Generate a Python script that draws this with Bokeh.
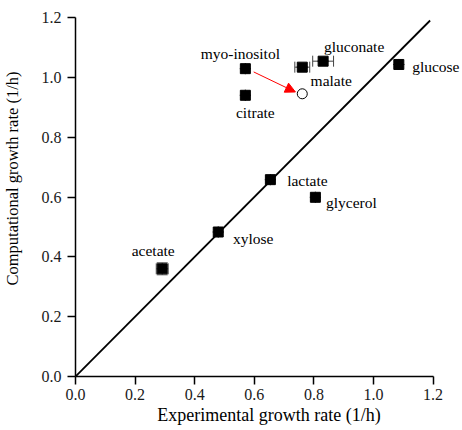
from bokeh.plotting import figure
from bokeh.models import (ColumnDataSource, Whisker, Arrow, NormalHead, TeeHead, Range1d,
                          FixedTicker, Title, CustomJSTickFormatter)
from bokeh.core.properties import value
from bokeh.embed import file_html
from bokeh.resources import INLINE

# ---- data ----
names = ["acetate", "xylose", "lactate", "glycerol", "glucose",
         "gluconate", "myo-inositol", "malate", "citrate"]
exp_rate = [0.291, 0.479, 0.654, 0.805, 1.085, 0.831, 0.570, 0.761, 0.570]
comp_rate = [0.360, 0.483, 0.658, 0.599, 1.043, 1.054, 1.029, 1.034, 0.940]
exp_err = [0.02, 0.0, 0.0, 0.0, 0.0, 0.035, 0.0, 0.025, 0.0]
comp_err = [0.02, 0.0, 0.0, 0.0, 0.0, 0.0, 0.0, 0.0, 0.0]

# corrected myo-inositol prediction (open circle)
corr_x = [0.761]
corr_y = [0.945]

# y = x reference line
diag = [0.0, 1.19]

ticks = [0.0, 0.2, 0.4, 0.6, 0.8, 1.0, 1.2]

# ---- label layout (pixel offsets, styling) ----
lab_dx = [-9, 35, 37, 36, 37, 31, -5, 29, 10]
lab_dy = [-18, 6, 1, 5, 2, -15, -15, 13, 17]

FONT = "Liberation Serif"

p = figure(width=462, height=430, output_backend="svg", toolbar_location=None,
           x_range=Range1d(0, 1.2987), y_range=Range1d(0, 1.2),
           min_border_left=75, min_border_right=0, min_border_top=17, min_border_bottom=54)
p.outline_line_color = None
p.xgrid.visible = False
p.ygrid.visible = False
p.background_fill_color = "white"
p.border_fill_color = "white"

fmt = CustomJSTickFormatter(code="return tick.toFixed(1);")
for ax in (p.xaxis[0], p.yaxis[0]):
    ax.ticker = FixedTicker(ticks=ticks)
    ax.bounds = (0, 1.2)
    ax.formatter = fmt
    ax.minor_tick_line_color = None
    ax.major_tick_out = 8
    ax.major_tick_in = 0
    ax.axis_line_color = "black"
    ax.axis_line_width = 1.5
    ax.major_tick_line_color = "black"
    ax.major_tick_line_width = 1.5
    ax.major_label_text_font = FONT
    ax.major_label_text_font_size = "16px"
    ax.major_label_text_color = "#1a1a1a"
    ax.axis_label_text_font = FONT
    ax.axis_label_text_font_style = "normal"
    ax.axis_label_text_color = "black"

p.xaxis[0].axis_label = "Experimental growth rate (1/h)"
p.xaxis[0].axis_label_text_font_size = "18px"
p.xaxis[0].major_label_standoff = 4
p.xaxis[0].axis_label_standoff = 2
p.yaxis[0].major_label_standoff = 6
# blank axis label only reserves a little space between tick labels and the side title
p.yaxis[0].axis_label = " "
p.yaxis[0].axis_label_text_font_size = "12px"
p.yaxis[0].axis_label_standoff = 0

# y-axis title as a side title so it can sit a little above the frame middle
p.add_layout(Title(text="Computational growth rate (1/h)", align="left", offset=91,
                   text_font=FONT, text_font_size="16.5px", text_font_style="normal",
                   text_color="black", standoff=0), "left")

p.line(diag, diag, line_color="black", line_width=1.8)

src = ColumnDataSource(dict(
    x=exp_rate, y=comp_rate, name=names,
    xl=[a - e for a, e in zip(exp_rate, exp_err)],
    xu=[a + e for a, e in zip(exp_rate, exp_err)],
    yl=[a - e for a, e in zip(comp_rate, comp_err)],
    yu=[a + e for a, e in zip(comp_rate, comp_err)],
    dx=lab_dx, dy=lab_dy,
))

wx = Whisker(source=src, base="y", lower="xl", upper="xu", dimension="width",
             line_color="#444444", line_width=1)
wx.lower_head = TeeHead(size=11, line_color="#444444", line_width=1)
wx.upper_head = TeeHead(size=11, line_color="#444444", line_width=1)
wy = Whisker(source=src, base="x", lower="yl", upper="yu", dimension="height",
             line_color="#444444", line_width=1)
wy.lower_head = TeeHead(size=11, line_color="#444444", line_width=1)
wy.upper_head = TeeHead(size=11, line_color="#444444", line_width=1)
p.add_layout(wx)
p.add_layout(wy)

p.scatter("x", "y", source=src, marker="square", size=10,
          fill_color="black", line_color="black")
p.scatter(corr_x, corr_y, marker="circle", size=10, fill_color="white",
          line_color="black", line_width=1)

p.text("x", "y", text="name", source=src, x_offset="dx", y_offset="dy",
       text_align="center", text_baseline="middle",
       text_font=value(FONT), text_font_size="15.5px", text_color="black")

arrow_start = (0.598, 1.018)
arrow_end = (0.738, 0.951)
p.add_layout(Arrow(end=NormalHead(size=10, fill_color="red", line_color="red"),
                   x_start=arrow_start[0], y_start=arrow_start[1],
                   x_end=arrow_end[0], y_end=arrow_end[1],
                   line_color="red", line_width=1))

open("out.html", "w").write(file_html(p, INLINE))
